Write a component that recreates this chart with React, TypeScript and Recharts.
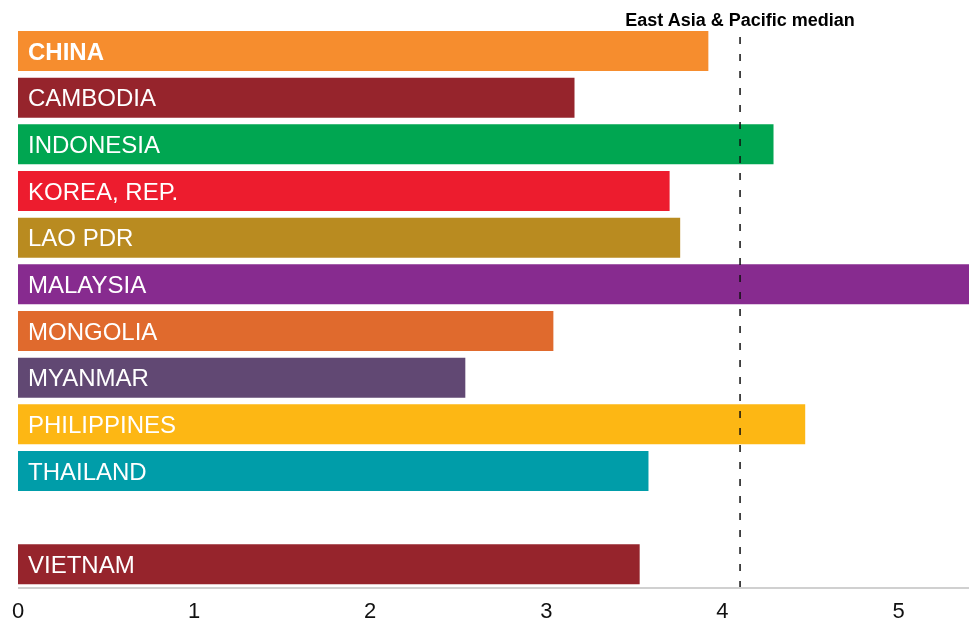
import React from "react";
import { BarChart, Bar, XAxis, YAxis, Cell, LabelList, ReferenceLine } from "recharts";

const countries = ["CHINA", "CAMBODIA", "INDONESIA", "KOREA, REP.", "LAO PDR", "MALAYSIA", "MONGOLIA", "MYANMAR", "PHILIPPINES", "THAILAND", " ", "VIETNAM"];
const values: (number | null)[] = [3.92, 3.16, 4.29, 3.7, 3.76, 5.6, 3.04, 2.54, 4.47, 3.58, null, 3.53];
const colors = ["#F68D2E", "#96242C", "#00A651", "#ED1C2E", "#B98B20", "#872B8F", "#E06A2D", "#614873", "#FDB714", "#009DA9", "#FFFFFF", "#96242C"];
const xTicks = [0, 1, 2, 3, 4, 5];
const medianValue = 4.1;
const medianLabel = "East Asia & Pacific median";

const data = countries.map((c, i) => ({ name: c, value: values[i] }));

const FONT = "'Liberation Sans', Arial, sans-serif";

const renderLabel = (props: any) => {
  const { x, y, height, value, index } = props;
  if (value == null || !String(value).trim()) return null;
  return (
    <text
      x={Number(x) + 10}
      y={Number(y) + Number(height) / 2}
      dy="0.36em"
      fill="#FFFFFF"
      fontFamily={FONT}
      fontSize={24}
      fontWeight={index === 0 ? "bold" : "normal"}
    >
      {value}
    </text>
  );
};

export default function App() {
  return (
    <div style={{ position: "fixed", left: 8, top: 8, width: 961, height: 614, overflow: "hidden" }}>
      <BarChart
        width={961}
        height={614}
        data={data}
        layout="vertical"
        margin={{ top: 20, right: 0, bottom: 0, left: 10 }}
        barSize={40}
      >
        <XAxis
          type="number"
          domain={[0, 5.4]}
          ticks={xTicks}
          allowDataOverflow
          axisLine={{ stroke: "#D0D0D0", strokeWidth: 2 }}
          tickLine={false}
          tickMargin={8}
          height={34}
          tick={{ fill: "#111", fontSize: 22, fontFamily: FONT }}
          interval={0}
        />
        <YAxis
          type="category"
          dataKey="name"
          width={0}
          tick={false}
          tickLine={false}
          axisLine={{ stroke: "#D0D0D0", strokeWidth: 2 }}
        />
        <Bar dataKey="value" isAnimationActive={false}>
          {data.map((d, i) => (
            <Cell key={i} fill={colors[i]} />
          ))}
          <LabelList dataKey="name" content={renderLabel} />
        </Bar>
        <ReferenceLine
          x={medianValue}
          stroke="#111"
          strokeWidth={1.5}
          strokeDasharray="7 10"
          label={{ value: medianLabel, position: "top", offset: 2, fill: "#000", fontSize: 18, fontWeight: "bold", fontFamily: FONT }}
        />
      </BarChart>
    </div>
  );
}
